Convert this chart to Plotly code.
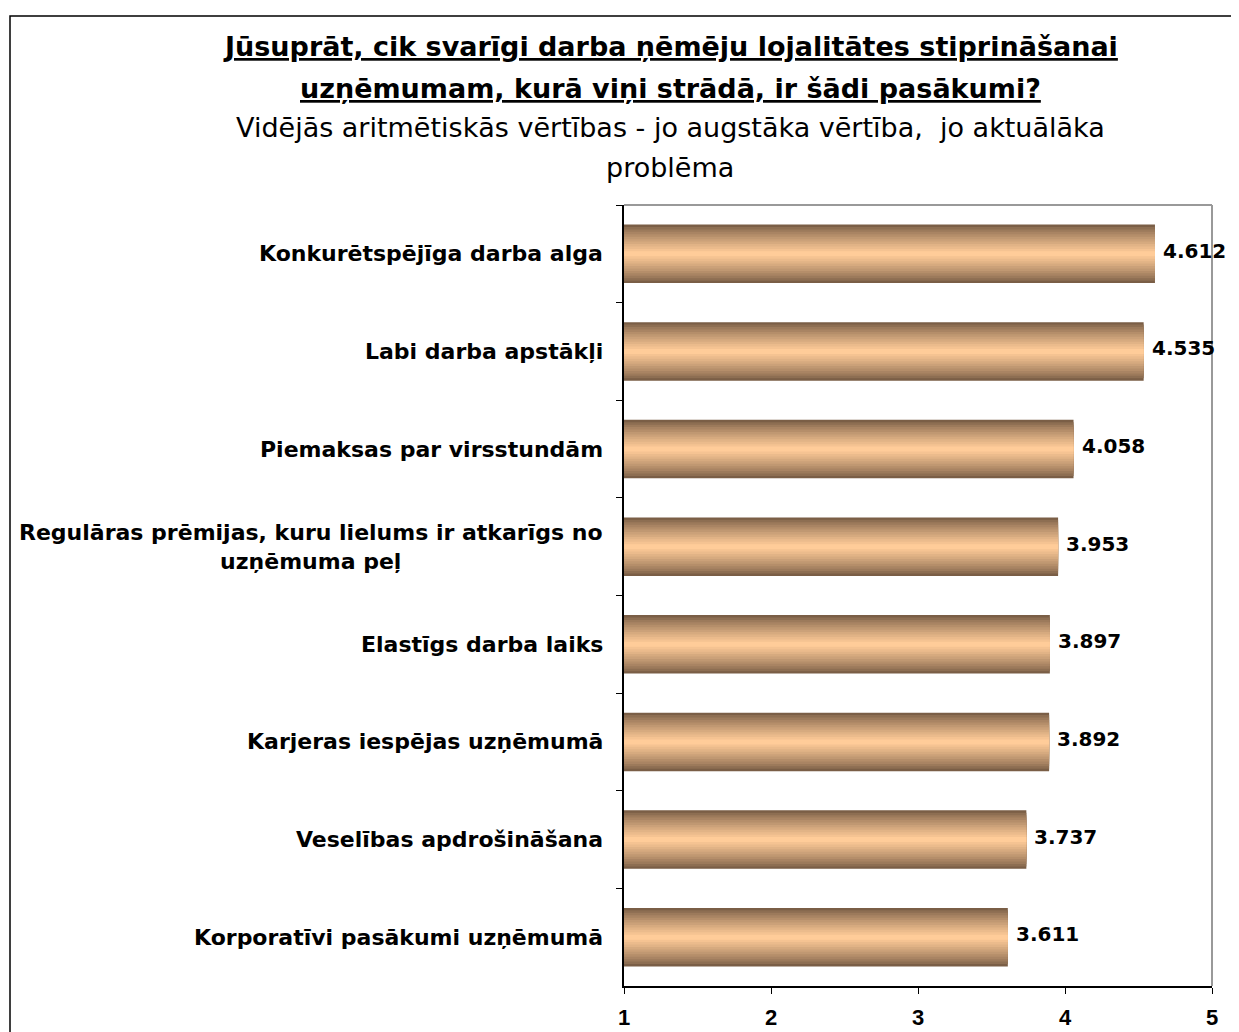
import plotly.graph_objects as go

categories = [
    "Konkurētspējīga darba alga",
    "Labi darba apstākļi",
    "Piemaksas par virsstundām",
    "Regulāras prēmijas, kuru lielums ir atkarīgs no<br>uzņēmuma peļ",
    "Elastīgs darba laiks",
    "Karjeras iespējas uzņēmumā",
    "Veselības apdrošināšana",
    "Korporatīvi pasākumi uzņēmumā",
]
values = [4.612, 4.535, 4.058, 3.953, 3.897, 3.892, 3.737, 3.611]
x_ticks = [1, 2, 3, 4, 5]

title_lines = [
    "<u><b>Jūsuprāt, cik svarīgi darba ņēmēju lojalitātes stiprināšanai</b></u>",
    "<u><b>uzņēmumam, kurā viņi strādā, ir šādi pasākumi?</b></u>",
    "Vidējās aritmētiskās vērtības - jo augstāka vērtība,  jo aktuālāka",
    "problēma",
]

# page has an 8px body margin; figure coords = page coords - 8
OFF = 8
W, H = 1239 - OFF, 1032 - OFF
L, R, T, B = 624 - OFF, 1212 - OFF, 205 - OFF, 986 - OFF
ml, mr, mt, mb = L, W - R, T, H - B
pw, ph = R - L, B - T

def px2x(px):
    return (px - OFF - L) / pw

def py2y(py):
    return (B - (py - OFF)) / ph

FONT = "DejaVu Sans, Verdana, sans-serif"
TICKFONT = "Liberation Sans, Arial, sans-serif"

dark = (0x7a, 0x5e, 0x46)
light = (0xff, 0xcc, 0x99)
n_layers = 12
fig = go.Figure()
for i in range(n_layers):
    t = i / (n_layers - 1)
    c = tuple(int(dark[k] + (light[k] - dark[k]) * (t ** 0.8)) for k in range(3))
    w = 0.6 * (1 - i / n_layers)
    fig.add_trace(go.Bar(
        x=[v - 1 for v in values], base=1, y=categories, orientation="h",
        width=w, marker=dict(color="rgb(%d,%d,%d)" % c, line=dict(width=0)),
        showlegend=False, hoverinfo="skip",
    ))

ann = []
for v, cat in zip(values, categories):
    ann.append(dict(text="<b>%.3f</b>" % v, x=v, y=cat, xref="x", yref="y",
                    xanchor="left", yanchor="middle", xshift=6, yshift=3, showarrow=False,
                    font=dict(family=FONT, size=20, color="black")))

title_y = [47, 88, 128, 168]
for line, yy in zip(title_lines, title_y):
    ann.append(dict(text=line, x=px2x(670), y=py2y(yy), xref="paper", yref="paper",
                    xanchor="center", yanchor="middle", showarrow=False,
                    font=dict(family=FONT, size=27, color="black")))
for cat in categories:
    ann.append(dict(text="<b>" + cat + "</b>", x=px2x(605), y=cat, xref="paper", yref="y",
                    xanchor="right", yanchor="middle", align="center", showarrow=False,
                    font=dict(family=FONT, size=22, color="black")))

shapes = [
    dict(type="rect", xref="paper", yref="paper", x0=px2x(10), x1=px2x(1236),
         y0=py2y(16), y1=py2y(1060), line=dict(color="black", width=1.5)),
    dict(type="line", xref="paper", yref="paper", x0=0, x1=1, y0=1, y1=1,
         line=dict(color="#999999", width=2)),
    dict(type="line", xref="paper", yref="paper", x0=1, x1=1, y0=0, y1=1,
         line=dict(color="#999999", width=2)),
]

fig.update_layout(
    width=W, height=H, barmode="overlay",
    margin=dict(l=ml, r=mr, t=mt, b=mb, pad=0, autoexpand=False),
    paper_bgcolor="white", plot_bgcolor="white",
    annotations=ann, shapes=shapes,
    xaxis=dict(range=[1, 5], tickvals=x_ticks, ticktext=["<b>%d</b>" % v for v in x_ticks],
               showgrid=False, zeroline=False, showline=True, linecolor="black", linewidth=2,
               ticks="outside", ticklen=6, tickcolor="black", tickwidth=1,
               ticklabelstandoff=5, automargin=False,
               tickfont=dict(family=TICKFONT, size=22, color="black")),
    yaxis=dict(categoryorder="array", categoryarray=categories, autorange="reversed",
               showticklabels=False, showgrid=False, zeroline=False, showline=True,
               linecolor="black", linewidth=2, ticks="outside", ticklen=6,
               tickcolor="black", tickson="boundaries", automargin=False),
)

fig.write_html("out.html")
